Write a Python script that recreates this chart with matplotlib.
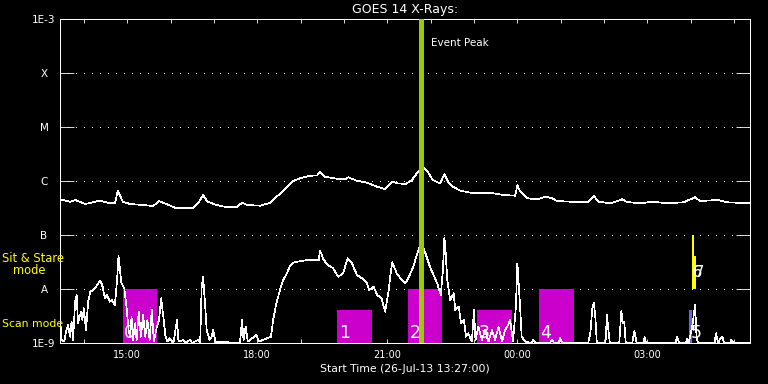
import matplotlib
matplotlib.use('Agg')
import matplotlib.pyplot as plt
import matplotlib.dates as mdates
import matplotlib.ticker as mticker
import pandas as pd

plt.rcParams['font.family'] = ['DejaVu Sans']
plt.rcParams['lines.antialiased'] = False
plt.rcParams['patch.antialiased'] = False

start = pd.Timestamp('2013-07-26 13:27:00')
span_min = 955
peak_min = 500

# long channel, minutes after start / flux (W m^-2)
long_min = [0, 14, 21, 35, 55, 69, 76, 80, 87, 97, 115, 129, 137, 148, 159,
            184, 191, 198, 204, 217, 231, 245, 252, 259, 277, 291, 305, 323,
            332, 346, 356, 360, 367, 384, 395, 399, 411, 425, 439, 450, 454,
            460, 467, 478, 487, 494, 501, 508, 516, 526, 532, 537, 544, 554,
            568, 586, 600, 613, 630, 633, 637, 647, 660, 672, 681, 688, 706,
            720, 731, 739, 745, 762, 778, 785, 803, 821, 840, 863, 879, 886,
            910, 924, 955]
long_flux = [4.58e-7, 4.14e-7, 4.45e-7, 3.75e-7, 4.32e-7, 3.86e-7, 3.86e-7,
             6.53e-7, 4.14e-7, 3.75e-7, 3.59e-7, 3.44e-7, 4.26e-7, 3.71e-7,
             3.20e-7, 3.12e-7, 3.86e-7, 5.51e-7, 4.14e-7, 3.59e-7, 3.26e-7,
             3.34e-7, 3.96e-7, 3.59e-7, 3.49e-7, 3.96e-7, 5.92e-7, 1.00e-6,
             1.12e-6, 1.25e-6, 1.27e-6, 1.49e-6, 1.20e-6, 1.10e-6, 1.08e-6,
             1.17e-6, 1.01e-6, 9.30e-7, 7.84e-7, 7.11e-7, 8.08e-7, 9.70e-7,
             9.06e-7, 8.80e-7, 1.04e-6, 1.39e-6, 1.84e-6, 1.55e-6, 1.04e-6,
             9.06e-7, 1.33e-6, 9.70e-7, 7.84e-7, 6.61e-7, 6.07e-7, 5.92e-7,
             5.92e-7, 5.51e-7, 5.35e-7, 8.32e-7, 6.34e-7, 4.79e-7, 4.58e-7,
             5.12e-7, 4.79e-7, 4.26e-7, 4.14e-7, 4.03e-7, 4.03e-7, 5.27e-7,
             4.14e-7, 3.86e-7, 4.58e-7, 4.08e-7, 3.86e-7, 4.14e-7, 3.86e-7,
             4.03e-7, 4.99e-7, 4.26e-7, 4.45e-7, 4.03e-7, 3.86e-7]

# short channel
short_min = [0, 2, 6, 8, 11, 14, 16, 18, 21, 23, 25, 29, 31, 33, 36, 39, 42,
             46, 50, 53, 56, 59, 62, 65, 69, 72, 76, 79, 81, 83, 85, 89, 92,
             95, 97, 99, 101, 104, 106, 109, 112, 115, 118, 121, 124, 127,
             130, 134, 137, 140, 143, 146, 149, 152, 157, 162, 164, 171, 173,
             180, 183, 191, 194, 196, 198, 201, 203, 207, 210, 212, 215, 249,
             252, 254, 257, 260, 272, 275, 292, 295, 299, 302, 305, 309, 314,
             318, 323, 328, 342, 353, 358, 360, 365, 371, 378, 385, 392, 398,
             404, 411, 418, 425, 428, 434, 439, 445, 450, 455, 457, 460, 466,
             473, 478, 482, 489, 496, 500, 505, 512, 522, 527, 530, 532, 533,
             536, 540, 545, 547, 552, 555, 559, 562, 565, 570, 573, 575, 579,
             584, 588, 593, 598, 602, 607, 612, 616, 619, 623, 627, 631, 633,
             636, 639, 644, 652, 655, 658, 678, 681, 684, 690, 692, 695, 731,
             734, 737, 739, 741, 743, 755, 757, 759, 761, 774, 777, 779, 781,
             783, 792, 795, 798, 808, 809, 811, 852, 854, 857, 866, 868, 870,
             875, 878, 879, 881, 883, 906, 908, 911, 914, 917, 919, 928, 929,
             932, 955]
short_flux = [3.07e-9, 1.14e-9, 1.06e-9, 1.53e-9, 2.15e-9, 1.31e-9, 2.48e-9,
              1.14e-9, 5.82e-9, 7.74e-9, 2.35e-9, 3.80e-9, 2.67e-9, 4.39e-9,
              1.74e-9, 5.82e-9, 8.91e-9, 9.58e-9, 1.10e-8, 1.28e-8, 1.43e-8,
              1.10e-8, 6.73e-9, 7.74e-9, 5.82e-9, 6.25e-9, 5.06e-9, 1.47e-8,
              4.08e-8, 2.25e-8, 1.28e-8, 1.03e-8, 4.70e-9, 1.74e-9, 1.31e-9,
              3.07e-9, 1.14e-9, 2.32e-9, 1.14e-9, 3.80e-9, 1.31e-9, 3.30e-9,
              1.31e-9, 2.67e-9, 1.14e-9, 4.08e-9, 1.06e-9, 2.00e-9, 2.67e-9,
              6.73e-9, 3.07e-9, 1.31e-9, 1.06e-9, 1.22e-9, 1.00e-9, 2.67e-9,
              1.06e-9, 1.14e-9, 1.00e-9, 1.14e-9, 1.00e-9, 1.14e-9, 1.00e-9,
              1.03e-8, 1.69e-8, 4.70e-9, 1.74e-9, 1.14e-9, 1.31e-9, 1.74e-9,
              1.06e-9, 1.00e-9, 2.67e-9, 1.14e-9, 2.00e-9, 1.06e-9, 1.41e-9,
              1.06e-9, 1.31e-9, 2.67e-9, 5.06e-9, 7.20e-9, 1.03e-8, 1.47e-8,
              1.95e-8, 2.59e-8, 3.07e-8, 3.20e-8, 3.44e-8, 3.39e-8, 3.44e-8,
              5.12e-8, 3.44e-8, 2.78e-8, 2.42e-8, 1.69e-8, 1.95e-8, 3.70e-8,
              2.99e-8, 1.82e-8, 1.58e-8, 1.28e-8, 9.58e-9, 1.10e-8, 7.74e-9,
              6.73e-9, 3.80e-9, 9.58e-9, 1.69e-8, 3.12e-8, 1.95e-8, 1.47e-8,
              1.28e-8, 1.58e-8, 2.59e-8, 5.27e-8, 7.52e-8, 4.91e-8, 2.59e-8,
              1.28e-8, 7.74e-9, 2.25e-8, 8.69e-8, 7.02e-8, 1.47e-8, 6.25e-9,
              8.32e-9, 4.08e-9, 4.70e-9, 2.32e-9, 2.67e-9, 1.31e-9, 1.51e-9,
              1.06e-9, 4.08e-9, 1.14e-9, 2.00e-9, 1.14e-9, 1.74e-9, 1.06e-9,
              1.74e-9, 1.14e-9, 2.00e-9, 1.06e-9, 1.74e-9, 2.00e-9, 2.67e-9,
              1.06e-9, 4.70e-9, 2.99e-8, 7.20e-9, 1.31e-9, 1.06e-9, 1.00e-9,
              1.14e-9, 1.00e-9, 1.00e-9, 1.14e-9, 1.00e-9, 1.00e-9, 1.24e-9,
              1.00e-9, 1.00e-9, 1.53e-9, 4.70e-9, 5.43e-9, 2.87e-9, 1.00e-9,
              1.00e-9, 3.30e-9, 1.74e-9, 1.00e-9, 1.00e-9, 3.92e-9, 2.32e-9,
              2.48e-9, 1.00e-9, 1.00e-9, 1.67e-9, 1.00e-9, 1.00e-9, 1.31e-9,
              1.00e-9, 1.00e-9, 1.31e-9, 1.00e-9, 1.00e-9, 1.19e-9, 1.00e-9,
              2.00e-9, 4.08e-9, 5.06e-9, 1.31e-9, 1.00e-9, 1.00e-9, 1.51e-9,
              1.00e-9, 1.22e-9, 1.31e-9, 1.00e-9, 1.00e-9, 1.14e-9, 1.00e-9,
              1.00e-9]

# observations: 0-5 scan mode, 6-7 sit & stare
obs_label = ['0', '1', '2', '3', '4', '5', '6', '7']
obs_start = [87, 384, 482, 577, 663, 871, 875, 878]
obs_stop = [134, 432, 529, 626, 712, 875, 878, 880]
obs_low = [1e-9, 1e-9, 1e-9, 1e-9, 1e-9, 1e-9, 1e-8, 1e-8]
obs_high = [1e-8, 4.1e-9, 1e-8, 4.1e-9, 1e-8, 4.1e-9, 1e-7, 4.1e-8]

class_levels = [1e-9, 1e-8, 1e-7, 1e-6, 1e-5, 1e-4, 1e-3]
class_labels = ['1E-9', 'A', 'B', 'C', 'M', 'X', '1E-3']


def to_x(minutes):
    t = start + pd.to_timedelta(pd.Series(minutes, dtype=float), unit='m')
    return mdates.date2num(t.to_numpy())


bar_colors = ['#cc00cc'] * 5 + ['#6464f0', '#ffff00', '#ffff00']

fig = plt.figure(figsize=(7.68, 3.84), dpi=100, facecolor='black')
ax = fig.add_axes([60 / 768, 41 / 384, 690 / 768, 324 / 384], facecolor='black')

x0 = to_x(obs_start)
x1 = to_x(obs_stop)
for i in range(len(obs_label)):
    ax.bar(x0[i], obs_high[i] - obs_low[i], bottom=obs_low[i], width=x1[i] - x0[i],
           align='edge', color=bar_colors[i], linewidth=0, zorder=1.6)
    if obs_low[i] > 1e-9:
        off, fs = (0.5, 8.6), 10.5
    else:
        off, fs = (1, 3.6), 12.5
    ax.annotate(obs_label[i], xy=(x0[i], obs_low[i]), xytext=off,
                textcoords='offset points', ha='left', va='baseline',
                color='white', fontsize=fs, zorder=4)

ax.plot(to_x(long_min), long_flux, color='white', lw=0.5, zorder=2)
ax.plot(to_x(short_min), short_flux, color='white', lw=0.5, zorder=2)

peak_x = to_x([peak_min])[0]
ax.axvline(peak_x, color='#9acd00', lw=2.2, zorder=3)
ax.annotate('Event Peak', xy=(peak_x, 1), xycoords=('data', 'axes fraction'),
            xytext=(7, -17), textcoords='offset points', ha='left', va='center',
            color='white', fontsize=7.5)

ax.set_yscale('log')
ax.set_ylim(1e-9, 1e-3)
ax.set_xlim(to_x([0, span_min]))
ax.set_yticks(class_levels)
ax.set_yticklabels(class_labels)
ax.yaxis.set_minor_locator(mticker.NullLocator())
ax.tick_params(axis='y', which='major', direction='in', length=10, width=0.6,
               left=True, right=True, colors='white', pad=11.5, labelsize=7.5)
for lbl in ax.get_yticklabels():
    lbl.set_horizontalalignment('center')

ax.xaxis.set_major_locator(mdates.HourLocator(byhour=range(0, 24, 3)))
ax.xaxis.set_minor_locator(mdates.HourLocator())
ax.xaxis.set_major_formatter(mdates.DateFormatter('%H:%M'))
ax.tick_params(axis='x', which='both', direction='in', length=3, width=0.6,
               top=True, bottom=True, colors='white', pad=5, labelsize=7)

ax.grid(axis='y', color='white', linestyle=(0, (1, 8)), linewidth=0.7)
for sp in ax.spines.values():
    sp.set_color('white')
    sp.set_linewidth(0.6)

ax.set_title('GOES 14 X-Rays:', color='white', fontsize=9, pad=4)
ax.set_xlabel('Start Time (26-Jul-13 13:27:00)', color='white', fontsize=7.8,
              labelpad=3)

fig.text(2 / 768, 1 - 259 / 384, 'Sit & Stare', color='yellow', fontsize=8.3,
         ha='left', va='center')
fig.text(13 / 768, 1 - 271 / 384, 'mode', color='yellow', fontsize=8.3,
         ha='left', va='center')
fig.text(2 / 768, 1 - 324 / 384, 'Scan mode', color='yellow', fontsize=7.8,
         ha='left', va='center')

fig.savefig('out.png', dpi=100, facecolor='black')
